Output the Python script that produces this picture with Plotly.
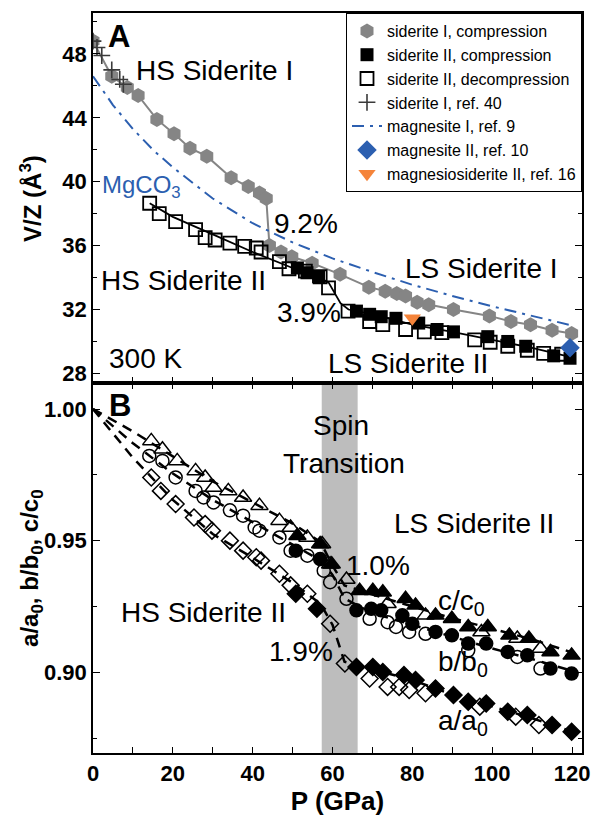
import plotly.graph_objects as go

# ---------------- Panel A data (V/Z, Å^3) ----------------
sid1_P = [0, 4.7, 8.6, 11.3, 16.0, 20.3, 24.3, 28.5, 34.6, 38.9, 41.7, 43.4, 44.2, 47.1, 49.8,
          54.9, 61.9, 69.1, 73.2, 76.1, 78.3, 81.2, 84.1, 90.3, 99.3, 104.7, 109.6, 115.0, 119.9]
sid1_V = [48.8, 46.6, 45.9, 45.4, 43.9, 43.0, 42.1, 41.6, 40.25, 39.7, 39.3, 38.95, 36.0, 35.6, 35.3,
          34.9, 34.2, 33.4, 33.15, 33.0, 32.85, 32.45, 32.3, 32.0, 31.6, 31.25, 31.05, 30.7, 30.5]

s2c_P = [51.2, 53.6, 56.5, 66.0, 69.3, 72.2, 75.9, 81.6, 86.2, 90.3, 98.9, 103.9, 108.4, 115.4, 119.5]
s2c_V = [34.6, 34.3, 34.05, 31.9, 31.7, 31.55, 31.45, 31.15, 30.75, 30.6, 30.3, 30.0, 29.7, 29.1, 28.95]

s2d_P = [14.2, 16.6, 20.7, 25.7, 28.1, 30.6, 34.3, 38.0, 40.9, 42.1, 46.7, 49.1, 53.2, 56.9, 59.0,
         63.9, 69.3, 72.6, 78.3, 83.0, 87.4, 95.6, 99.5, 103.9, 108.8, 112.9, 117.4]
s2d_V = [38.65, 38.0, 37.5, 37.0, 36.5, 36.35, 36.15, 35.95, 35.85, 35.6, 35.0, 34.55, 34.4, 34.05, 33.35,
         31.9, 31.25, 31.05, 30.75, 30.6, 30.55, 30.1, 29.95, 29.7, 29.45, 29.25, 29.2]

s2fit_P = [14.2, 20, 30, 40, 50, 56, 59, 62, 64, 71, 80, 90, 100, 110, 120]
s2fit_V = [38.65, 37.8, 36.7, 35.6, 34.6, 34.1, 33.7, 32.4, 32.0, 31.65, 31.05, 30.6, 30.1, 29.6, 29.0]

ref40_P = [0, 1.0, 2.2, 4.7, 6.7, 7.6]
ref40_V = [48.8, 48.4, 47.9, 47.0, 46.4, 46.1]

mag1_P = [0, 5, 10, 15, 20, 25, 30, 40, 50, 60, 70, 80, 90, 100, 110, 120]
mag1_V = [46.6, 44.8, 43.3, 42.0, 40.9, 39.9, 38.95, 37.4, 36.2, 35.2, 34.35, 33.55, 32.85, 32.2, 31.6, 31.0]

mag2_P = [119.5]
mag2_V = [29.6]

msid_P = [80.0]
msid_V = [31.45]

# ---------------- Panel B data (axial ratios) ----------------
c_open_P = [14.6, 17.4, 21.1, 25.7, 28.1, 30.2, 33.9, 37.6, 41.7, 46.7, 49.5, 53.7, 57.4, 59.4,
            63.5, 73.8, 83.3, 97.3, 106.3, 112.1]
c_open_v = [0.9879, 0.9847, 0.9803, 0.9765, 0.974, 0.9702, 0.9689, 0.9664, 0.9633, 0.9576, 0.955,
            0.9512, 0.9487, 0.941, 0.9352, 0.926, 0.9216, 0.9153, 0.9128, 0.909]
c_fill_P = [51.2, 56.9, 59.8, 66.8, 70.1, 72.6, 78.3, 80.8, 85.8, 89.9, 94.0, 98.9, 104.3, 109.2, 114.6, 119.9]
c_fill_v = [0.9519, 0.9487, 0.941, 0.931, 0.931, 0.9304, 0.9279, 0.9254, 0.9216, 0.9203, 0.9172,
            0.9172, 0.914, 0.9128, 0.9077, 0.9064]

b_open_P = [14.1, 17.4, 20.7, 25.7, 27.7, 30.2, 34.3, 37.6, 40.5, 41.7, 46.7, 49.5, 53.7, 57.8, 59.4,
            63.5, 69.3, 73.8, 75.9, 79.2, 83.3, 94.0, 106.3, 112.1]
b_open_v = [0.9822, 0.9803, 0.974, 0.9689, 0.9664, 0.9645, 0.9615, 0.9595, 0.955, 0.9538, 0.9512,
            0.9462, 0.9443, 0.9386, 0.9342, 0.9279, 0.9203, 0.919, 0.9172, 0.9153, 0.9146, 0.9083,
            0.9058, 0.9014]
b_fill_P = [50.8, 56.9, 66.0, 69.7, 72.2, 77.5, 80.0, 85.8, 89.9, 94.0, 98.5, 103.9, 108.8, 114.6, 119.9]
b_fill_v = [0.9462, 0.943, 0.9235, 0.9241, 0.9235, 0.9216, 0.9184, 0.9153, 0.914, 0.9109, 0.9109,
            0.9077, 0.9064, 0.9014, 0.8995]

a_open_P = [14.6, 17.0, 20.7, 25.3, 28.1, 29.8, 34.3, 37.6, 40.9, 42.1, 46.7, 49.5, 53.7, 59.4,
            63.1, 69.3, 73.8, 76.7, 79.2, 83.3, 96.9, 105.9, 111.7]
a_open_v = [0.974, 0.9689, 0.9639, 0.9588, 0.9563, 0.9538, 0.95, 0.9462, 0.9437, 0.9424, 0.9374,
            0.933, 0.9298, 0.9184, 0.9033, 0.8976, 0.8944, 0.8944, 0.8932, 0.892, 0.8869, 0.8831, 0.8799]
a_fill_P = [50.8, 56.1, 66.0, 70.1, 72.6, 77.9, 80.8, 85.8, 90.3, 94.0, 98.5, 103.9, 108.8, 115.0, 119.9]
a_fill_v = [0.9298, 0.9241, 0.902, 0.902, 0.9001, 0.8989, 0.897, 0.8938, 0.8913, 0.8888, 0.8881,
            0.885, 0.8837, 0.8799, 0.8774]

fit_P = [0, 10, 20, 30, 40, 50, 57, 60, 63, 70, 80, 90, 100, 110, 120]
a_fit_v = [1.0, 0.9815, 0.9655, 0.9525, 0.9435, 0.934, 0.926, 0.918, 0.904, 0.901, 0.897, 0.8915, 0.887, 0.8825, 0.8775]
b_fit_v = [1.0, 0.987, 0.9755, 0.9655, 0.957, 0.9485, 0.9425, 0.937, 0.928, 0.9225, 0.918, 0.9135, 0.909, 0.905, 0.9005]
c_fit_v = [1.0, 0.9915, 0.982, 0.9725, 0.9645, 0.9565, 0.9495, 0.9405, 0.933, 0.9295, 0.925, 0.9205, 0.9165, 0.9125, 0.9075]

spin_band = [57.3, 66.3]

# ---------------- styling ----------------
FONT = "Liberation Sans"
GRAY = "#858585"
BLUE = "#2c5fb0"
ORANGE = "#f5843a"

fig = go.Figure()

# Panel A lines (no legend)
fig.add_trace(go.Scatter(x=sid1_P, y=sid1_V, mode="lines", line=dict(color=GRAY, width=2),
                         showlegend=False, xaxis="x", yaxis="y"))
fig.add_trace(go.Scatter(x=s2fit_P, y=s2fit_V, mode="lines", line=dict(color="black", width=1.8),
                         showlegend=False, xaxis="x", yaxis="y"))
# Panel A markers
fig.add_trace(go.Scatter(x=sid1_P, y=sid1_V, mode="markers", name="siderite I, compression",
                         marker=dict(symbol="hexagon", size=15, color=GRAY, line=dict(width=0)),
                         xaxis="x", yaxis="y"))
fig.add_trace(go.Scatter(x=s2c_P, y=s2c_V, mode="markers", name="siderite II, compression",
                         marker=dict(symbol="square", size=13, color="black", line=dict(width=0)),
                         xaxis="x", yaxis="y"))
fig.add_trace(go.Scatter(x=s2d_P, y=s2d_V, mode="markers", name="siderite II, decompression",
                         marker=dict(symbol="square-open", size=13, color="black", line=dict(width=1.8)),
                         xaxis="x", yaxis="y"))
fig.add_trace(go.Scatter(x=ref40_P, y=ref40_V, mode="markers", name="siderite I, ref. 40",
                         marker=dict(symbol="cross-thin", size=12, color="#3a3a3a", line=dict(width=1.6, color="#3a3a3a")),
                         xaxis="x", yaxis="y"))
fig.add_trace(go.Scatter(x=mag1_P, y=mag1_V, mode="lines", name="magnesite I, ref. 9",
                         line=dict(color=BLUE, width=2, dash="12px,6px,3px,6px"),
                         xaxis="x", yaxis="y"))
fig.add_trace(go.Scatter(x=mag2_P, y=mag2_V, mode="markers", name="magnesite II, ref. 10",
                         marker=dict(symbol="diamond", size=15, color=BLUE, line=dict(width=0)),
                         xaxis="x", yaxis="y"))
fig.add_trace(go.Scatter(x=msid_P, y=msid_V, mode="markers", name="magnesiosiderite II, ref. 16",
                         marker=dict(symbol="triangle-down", size=15, color=ORANGE, line=dict(width=0)),
                         xaxis="x", yaxis="y"))

# Panel B fits
for fv in (a_fit_v, b_fit_v, c_fit_v):
    fig.add_trace(go.Scatter(x=fit_P, y=fv, mode="lines", line=dict(color="black", width=2.5, dash="10px,7px"),
                             showlegend=False, xaxis="x2", yaxis="y2"))
# Panel B markers
def mk(P, v, sym, size):
    return go.Scatter(x=P, y=v, mode="markers", showlegend=False, xaxis="x2", yaxis="y2",
                      marker=dict(symbol=sym, size=size, color="black",
                                  line=dict(width=1.5, color="black")))
fig.add_trace(mk(c_open_P, c_open_v, "triangle-up-open", 15))
fig.add_trace(mk(b_open_P, b_open_v, "circle-open", 13))
fig.add_trace(mk(a_open_P, a_open_v, "diamond-open", 13))
fig.add_trace(mk(c_fill_P, c_fill_v, "triangle-up", 15))
fig.add_trace(mk(b_fill_P, b_fill_v, "circle", 13))
fig.add_trace(mk(a_fill_P, a_fill_v, "diamond", 13))

tickf = dict(family=FONT, size=22, color="black", weight="bold")
common_x = dict(range=[0, 122.5], tick0=0, dtick=20, ticks="inside", ticklen=6, tickwidth=1.3,
                tickcolor="black", showline=True, linecolor="black", linewidth=1.5,
                showgrid=False, zeroline=False,
                minor=dict(dtick=10, ticks="inside", ticklen=6, tickwidth=1.3, tickcolor="black"))

fig.update_layout(
    width=601, height=817,
    margin=dict(l=93, r=12, t=11, b=64),
    paper_bgcolor="white", plot_bgcolor="white",
    font=dict(family=FONT, color="black", size=16),
    xaxis=dict(**common_x, anchor="y", mirror=True, showticklabels=False),
    xaxis2=dict(**common_x, anchor="y2", mirror="ticks", showticklabels=True, tickfont=tickf,
                title=dict(text="P (GPa)", font=dict(family=FONT, size=26, weight="bold"), standoff=2)),
    yaxis=dict(domain=[0.5, 1.0], anchor="x", range=[27.4, 50.56], tick0=28, dtick=4,
               ticks="inside", ticklen=7, tickwidth=1.3, tickcolor="black", mirror="ticks",
               showline=True, linecolor="black", linewidth=1.5, showgrid=False, zeroline=False,
               tickfont=tickf,
               minor=dict(dtick=2, ticks="inside", ticklen=4, tickwidth=1.3, tickcolor="black")),
    yaxis2=dict(domain=[0.0, 0.5], anchor="x2", range=[0.8693, 1.0099], tick0=0.9, dtick=0.05,
                tickformat=".2f", ticks="inside", ticklen=7, tickwidth=1.3, tickcolor="black", mirror="ticks",
                showline=True, linecolor="black", linewidth=1.5, showgrid=False, zeroline=False,
                tickfont=tickf,
                minor=dict(dtick=0.025, ticks="inside", ticklen=4, tickwidth=1.3, tickcolor="black")),
    legend=dict(x=1.0, y=1.0, xanchor="right", yanchor="top", bgcolor="white",
                bordercolor="black", borderwidth=1, font=dict(family=FONT, size=16, color="black"),
                tracegroupgap=0, itemwidth=30),
    shapes=[dict(type="rect", xref="x2", yref="y2 domain", x0=spin_band[0], x1=spin_band[1],
                 y0=0, y1=1, fillcolor="#bdbdbd", line=dict(width=0), layer="below")],
)

ann = []
def A(text, x, y, xref="x", yref="y", size=28, color="black", xanchor="left", yanchor="middle", bold=False, angle=0):
    ann.append(dict(text=text, x=x, y=y, xref=xref, yref=yref, showarrow=False, xanchor=xanchor,
                    yanchor=yanchor, textangle=angle,
                    font=dict(family=FONT, size=size, color=color, weight="bold" if bold else "normal")))

# Panel A labels
A("A", 6.5, 49.1, size=31, bold=True, xanchor="center")
A("HS Siderite I", 10.3, 46.94)
A("MgCO<sub>3</sub>", 1.8, 39.7, size=24, color=BLUE)
A("9.2%", 44.8, 37.4)
A("HS Siderite II", 1.6, 33.8)
A("3.9%", 45.6, 31.8)
A("LS Siderite I", 77.6, 34.56)
A("300 K", 3.6, 28.94)
A("LS Siderite II", 58.4, 28.63)
# Panel B labels
A("B", 6.8, 1.0015, "x2", "y2", size=31, bold=True, xanchor="center")
A("Spin", 62.2, 0.9936, "x2", "y2", xanchor="center")
A("Transition", 62.9, 0.9792, "x2", "y2", xanchor="center")
A("LS Siderite II", 74.9, 0.9564, "x2", "y2")
A("1.0%", 62.8, 0.9405, "x2", "y2")
A("HS Siderite II", 6.5, 0.9227, "x2", "y2")
A("1.9%", 43.6, 0.908, "x2", "y2")
A("c/c<sub>0</sub>", 86.0, 0.9265, "x2", "y2")
A("b/b<sub>0</sub>", 86.0, 0.9032, "x2", "y2")
A("a/a<sub>0</sub>", 86.0, 0.881, "x2", "y2")
# Axis titles (rotated)
A("V/Z (Å<sup>3</sup>)", -0.127, 0.75, "paper", "paper", size=24, bold=True, xanchor="center", angle=-90)
A("a/a<sub>0</sub>, b/b<sub>0</sub>, c/c<sub>0</sub>", -0.127, 0.25, "paper", "paper", size=24, bold=True,
  xanchor="center", angle=-90)

fig.update_layout(annotations=ann)

fig.write_html("out.html", config={"displayModeBar": False},
               post_script="document.body.style.margin='0';")
